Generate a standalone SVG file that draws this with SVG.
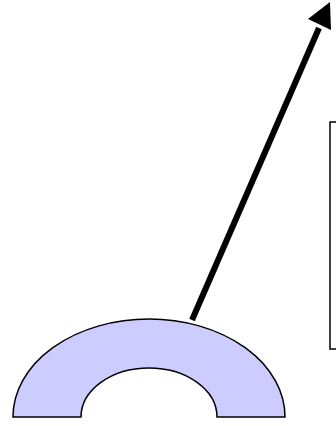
<svg xmlns="http://www.w3.org/2000/svg" width="336" height="426" viewBox="0 0 336 426">
<style>
.arch{fill:#ccccff;stroke:#000;stroke-width:1.5}
.box{fill:#fff;stroke:#000;stroke-width:1.5}
.conn{stroke:#000;stroke-width:6;fill:none}
</style>
<rect width="336" height="426" fill="#fff"/>
<g id="box"><rect class="box" x="330" y="122" width="20" height="227"/></g>
<g id="arch"><path class="arch" d="M13,417 A136,98 0 0 1 285,417 L217,417 A68,49 0 0 0 81,417 Z"/></g>
<g id="connectors">
<line class="conn" x1="192" y1="320" x2="319" y2="28"/>
<polygon points="330,2 331,30 308,19" fill="#000"/>
</g>
</svg>
